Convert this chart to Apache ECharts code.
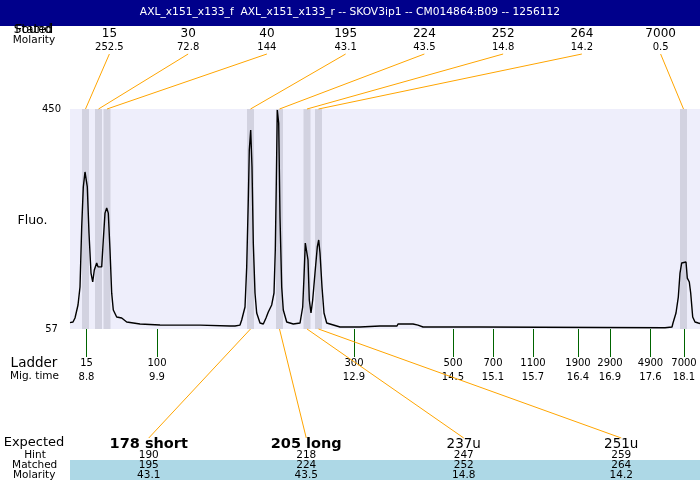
<!DOCTYPE html>
<html><head><meta charset="utf-8">
<script src="https://cdn.jsdelivr.net/npm/echarts@6/dist/echarts.min.js"></script>
<style>html,body{margin:0;padding:0;background:#fff}#c{width:700px;height:480px}</style>
</head><body><div id="c"></div>
<script>
// ---------- data ----------
const titleText = 'AXL_x151_x133_f  AXL_x151_x133_r -- SKOV3ip1 -- CM014864:B09 -- 1256112';

// found peaks (position along the scan axis, size, molarity)
const foundPos = [15.5, 28.5, 37, 180.5, 209.5, 237, 248.5, 613.5];
const foundSizes = ['15', '30', '40', '195', '224', '252', '264', '7000'];
const foundMolarity = ['252.5', '72.8', '144', '43.1', '43.5', '14.8', '14.2', '0.5'];

// ladder
const ladderPos = [16.5, 87, 284, 383, 423, 463, 508, 540, 580.5, 614];
const ladderSizes = ['15', '100', '300', '500', '700', '1100', '1900', '2900', '4900', '7000'];
const ladderTimes = ['8.8', '9.9', '12.9', '14.5', '15.1', '15.7', '16.4', '16.9', '17.6', '18.1'];

// expected products
const expectedLabels = ['178 short', '205 long', '237u', '251u'];
const expectedConfirmed = [true, true, false, false];
const hints = ['190', '218', '247', '259'];
const matched = ['195', '224', '252', '264'];
const matchedMolarity = ['43.1', '43.5', '14.8', '14.2'];

// y-axis tick labels
const yTicks = [57, 450];

// fluorescence trace [scan position, fluorescence]
const tracePos = [0,3,5,8,10,11.7,13.3,15,16,17.3,19,21,22.7,24.3,26.7,28,29.3,31.7,33.3,35,36.7,38.3,40,41.7,43.3,46.7,51.7,56.7,70,90,130,160,165,170,171.7,175,176.7,178.3,179.3,180.7,182,183.3,185,186.7,190,193.3,196,198.3,201.7,204,205.3,206.3,207.3,207.8,208.7,210,211.7,213.3,216.7,223.3,230,232.7,234,235.3,236.7,238,239.3,241,242.7,245,247.3,248.7,250,252,254,256.7,270,290,310,327,328,343,345,348,353,410,530,595,602,603,606,608.3,610,611.7,613.3,616,617.3,619.3,620.7,622.7,625,628.3,630];
const traceFluo = [68.3,69.5,76.6,99.9,132,239,310.7,337.5,341,310.7,228.5,157,141,162.4,175,168,166,168,216,264,273,264,198,121,91,78.4,76.6,69.5,66,64.1,64,62.4,62.4,64,73,96.3,167.8,287.4,376.8,412.5,346.4,210.6,121.3,85.6,67.7,66,76.6,87.4,99.9,121.3,198,317.8,448,450,425,257,132,91,69.5,66,67.7,96.3,150,210.6,212.4,180.3,108.8,85.6,108.8,157,203.5,216,192.8,132,85.6,67.7,60.6,60.6,62.4,62.4,66,66,67.2,64,60.6,60.6,59.7,59.3,60.6,67.7,85.6,114,157,175,176.7,176.7,148,141,121.3,78.4,69.5,67.7,66.8];

// ---------- chart ----------
const FONT = 'DejaVu Sans';
const X_MIN = 0, X_MAX = 630;
const Y_MIN = yTicks[0], Y_MAX = yTicks[1];
const BAND_HALF = 3.5;
const ORANGE = '#FFA500';

function colCenter(api, i, n) {
  const x0 = api.coord([X_MIN, Y_MIN])[0];
  const x1 = api.coord([X_MAX, Y_MIN])[0];
  return x0 + (i + 0.5) * (x1 - x0) / n;
}
function txt(x, y, text, size, weight, fill) {
  return { type: 'text', x: x, y: y, style: { text: text, fill: fill || '#000', fontSize: size, fontFamily: FONT, fontWeight: weight || 'normal', align: 'center', verticalAlign: 'middle' } };
}

const chart = echarts.init(document.getElementById('c'));
const option = {
  animation: false,
  grid: { left: 70, right: 0, top: 109, height: 220, show: true, backgroundColor: '#EEEEFB', borderWidth: 0 },
  xAxis: {
    type: 'value', min: X_MIN, max: X_MAX,
    axisLine: { show: false }, splitLine: { show: false },
    axisTick: { show: true, customValues: ladderPos, length: 28, lineStyle: { color: '#006400', width: 1 } },
    axisLabel: {
      show: true, customValues: ladderPos, margin: 27, fontFamily: FONT, fontSize: 10, color: '#000',
      lineHeight: 14, verticalAlign: 'top',
      formatter: function (v) { const i = ladderPos.indexOf(v); return i < 0 ? '' : ladderSizes[i] + '\n' + ladderTimes[i]; }
    }
  },
  yAxis: {
    type: 'value', min: Y_MIN, max: Y_MAX,
    axisLine: { show: false }, axisTick: { show: false }, splitLine: { show: false },
    axisLabel: { show: true, customValues: yTicks, align: 'center', margin: 18.5, fontFamily: FONT, fontSize: 10, color: '#000' }
  },
  graphic: [
    { type: 'rect', x: 0, y: 0, shape: { width: 700, height: 26 }, style: { fill: '#00008B' } },
    txt(350, 12.5, titleText, 10.7, 'normal', '#fff'),
    { type: 'rect', x: 70, y: 460, shape: { width: 630, height: 20 }, style: { fill: '#ADD8E6' } },
    txt(33.5, 29.5, 'Stated', 12), txt(33.5, 29.5, 'Found', 12), txt(34, 40.5, 'Molarity', 10.5),
    txt(32.5, 221, 'Fluo.', 12.5),
    txt(34, 363, 'Ladder', 13.5), txt(34.5, 376.5, 'Mig. time', 10.5),
    txt(34, 443, 'Expected', 13), txt(35, 455, 'Hint', 10.5), txt(34.7, 465, 'Matched', 10.5), txt(34.2, 475.5, 'Molarity', 10.5)
  ],
  series: [
    {
      type: 'custom', z: 1, silent: true,
      data: foundPos.map(function (p, i) { return [p, i]; }),
      renderItem: function (params, api) {
        const p = api.value(0);
        const a = api.coord([p - BAND_HALF, Y_MAX]);
        const b = api.coord([p + BAND_HALF, Y_MIN]);
        return { type: 'rect', shape: { x: a[0], y: a[1], width: b[0] - a[0], height: b[1] - a[1] }, style: { fill: '#D2D2E0' } };
      }
    },
    {
      type: 'line', z: 2, silent: true, showSymbol: false,
      data: tracePos.map(function (x, i) { return [x, traceFluo[i]]; }),
      lineStyle: { color: '#000', width: 1.4 }
    },
    {
      type: 'custom', z: 3, silent: true,
      data: foundPos.map(function (p, i) { return [p, i]; }),
      renderItem: function (params, api) {
        const i = params.dataIndex;
        const cx = colCenter(api, i, foundPos.length);
        const top = api.coord([api.value(0), Y_MAX]);
        return { type: 'group', children: [
          { type: 'line', shape: { x1: cx, y1: top[1] - 55, x2: top[0], y2: top[1] }, style: { stroke: ORANGE, lineWidth: 1 } },
          txt(cx, top[1] - 75, foundSizes[i], 12),
          txt(cx, top[1] - 62, foundMolarity[i], 10)
        ] };
      }
    },
    {
      type: 'custom', z: 3, silent: true,
      data: expectedLabels.map(function (l, i) { return [foundPos[foundSizes.indexOf(matched[i])], i]; }),
      renderItem: function (params, api) {
        const i = params.dataIndex;
        const cx = colCenter(api, i, expectedLabels.length);
        const b = api.coord([api.value(0), Y_MIN]);
        const conf = expectedConfirmed[i];
        return { type: 'group', children: [
          { type: 'line', shape: { x1: b[0], y1: b[1], x2: cx, y2: b[1] + 109 }, style: { stroke: ORANGE, lineWidth: 1 } },
          txt(cx, b[1] + 115, expectedLabels[i], conf ? 14.5 : 13.5, conf ? 'bold' : 'normal'),
          txt(cx, b[1] + 126, hints[i], 10.5),
          txt(cx, b[1] + 136, matched[i], 10.5),
          txt(cx, b[1] + 146.5, matchedMolarity[i], 10.5)
        ] };
      }
    }
  ]
};
chart.setOption(option);
</script>
</body></html>
